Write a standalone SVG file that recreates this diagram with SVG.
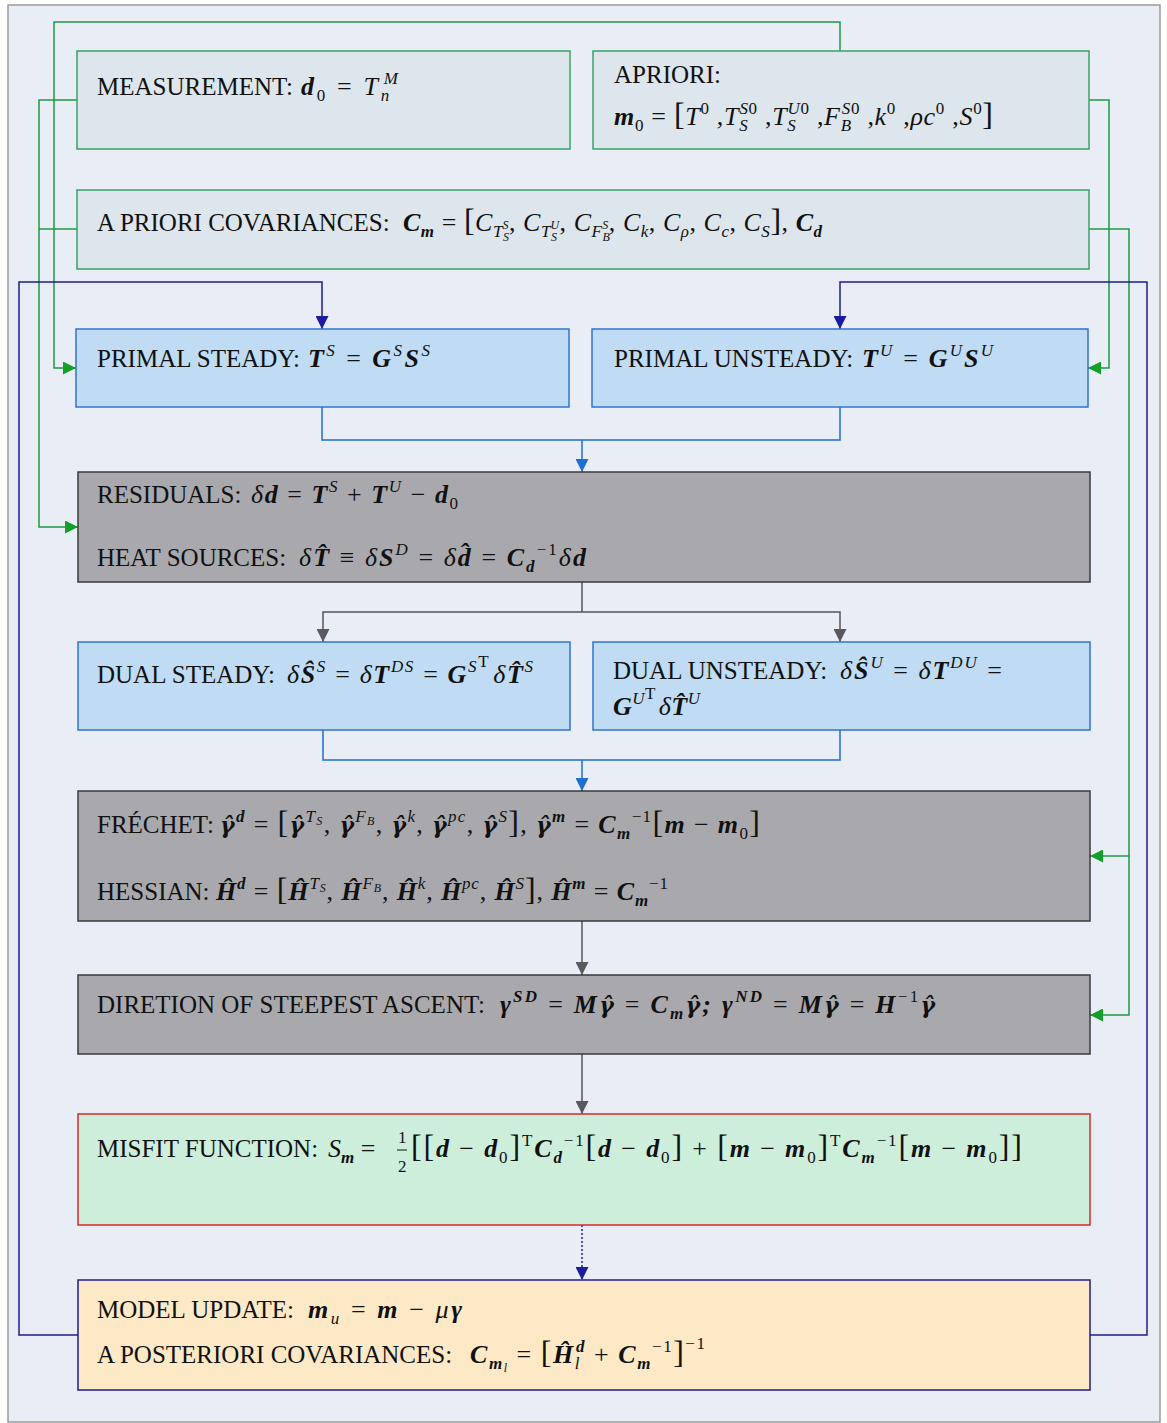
<svg xmlns="http://www.w3.org/2000/svg" width="1167" height="1423" viewBox="0 0 1167 1423">
<defs>
<style>
text{font-family:"Liberation Serif","Times New Roman",serif;font-size:25px;fill:#111}
.m{font-size:26px}
.b{font-weight:bold;font-style:italic}
.i{font-style:italic}
.g{font-family:"DejaVu Serif",serif;font-size:22px;font-weight:bold;font-style:italic}
.s{font-size:17px}
.x{font-size:12px}
.k{font-size:32px}
.bin{fill:#dde6ec;stroke:#3aa36a;stroke-width:1.5}
.bpr{fill:#bfdcf4;stroke:#2f74cf;stroke-width:1.5}
.bgr{fill:#a9a9ad;stroke:#3a3a3a;stroke-width:1.5}
.bmf{fill:#cdeedb;stroke:#d62a2a;stroke-width:1.5}
.bup{fill:#fde9c6;stroke:#1e1e8a;stroke-width:1.5}
.cg{fill:none;stroke:#1d9a45;stroke-width:1.5}
.cn{fill:none;stroke:#1c1c8e;stroke-width:1.5}
.cb{fill:none;stroke:#1f6fd0;stroke-width:1.5}
.ck{fill:none;stroke:#555;stroke-width:1.5}
</style>
<marker id="aG" viewBox="0 0 10 10" refX="10" refY="5" markerWidth="13" markerHeight="13" markerUnits="userSpaceOnUse" orient="auto"><path d="M0,0 L10,5 L0,10 z" fill="#12a028"/></marker>
<marker id="aN" viewBox="0 0 10 10" refX="10" refY="5" markerWidth="13" markerHeight="13" markerUnits="userSpaceOnUse" orient="auto"><path d="M0,0 L10,5 L0,10 z" fill="#1c1c9e"/></marker>
<marker id="aB" viewBox="0 0 10 10" refX="10" refY="5" markerWidth="13" markerHeight="13" markerUnits="userSpaceOnUse" orient="auto"><path d="M0,0 L10,5 L0,10 z" fill="#1f6fd0"/></marker>
<marker id="aK" viewBox="0 0 10 10" refX="10" refY="5" markerWidth="13" markerHeight="13" markerUnits="userSpaceOnUse" orient="auto"><path d="M0,0 L10,5 L0,10 z" fill="#5a5a5e"/></marker>
</defs>
<rect x="8" y="5" width="1152" height="1417" fill="#e9eef6" stroke="#9a9a9a" stroke-width="1.5"/>

<g id="connectors">
<path class="cg" d="M840,51 V22 H54 V368 H76" marker-end="url(#aG)"/>
<path class="cg" d="M77,100 H39 V527 H78" marker-end="url(#aG)"/>
<path class="cg" d="M77,229 H39"/>
<path class="cg" d="M1089,100 H1109 V368 H1088" marker-end="url(#aG)"/>
<path class="cg" d="M1089,229 H1129 V1015 H1090" marker-end="url(#aG)"/>
<path class="cg" d="M1129,856 H1090" marker-end="url(#aG)"/>
<path class="cn" d="M78,1335 H19 V282 H322 V329" marker-end="url(#aN)"/>
<path class="cn" d="M1090,1335 H1147 V282 H840 V329" marker-end="url(#aN)"/>
<path class="cn" d="M582,1225 V1280" stroke-dasharray="2,2" marker-end="url(#aN)"/>
<path class="cb" d="M322,407 V440 H840 V407"/>
<path class="cb" d="M582,440 V472" marker-end="url(#aB)"/>
<path class="cb" d="M323,730 V760 H840 V730"/>
<path class="cb" d="M582,760 V791" marker-end="url(#aB)"/>
<path class="ck" d="M582,582 V612"/>
<path class="ck" d="M582,612 H323 V642" marker-end="url(#aK)"/>
<path class="ck" d="M582,612 H840 V642" marker-end="url(#aK)"/>
<path class="ck" d="M582,921 V975" marker-end="url(#aK)"/>
<path class="ck" d="M582,1054 V1114" marker-end="url(#aK)"/>
</g>

<g id="measurement">
<rect class="bin" x="77" y="51" width="493" height="98"/>
<text x="97" y="95">MEASUREMENT:</text>
<text class="m" x="301" y="95" textLength="97" lengthAdjust="spacing"><tspan class="b">d</tspan><tspan class="s" dy="6">0</tspan><tspan dy="-6"> = </tspan><tspan class="i">T</tspan><tspan class="s i" dy="6">n</tspan><tspan class="s i" dx="-8" dy="-17">M</tspan></text>
</g>

<g id="apriori">
<rect class="bin" x="593" y="51" width="496" height="98"/>
<text x="614" y="83">APRIORI:</text>
<text class="m" x="614" y="125" textLength="379" lengthAdjust="spacing"><tspan class="b">m</tspan><tspan class="s" dy="6">0</tspan><tspan dy="-6"> = </tspan><tspan class="k">[</tspan><tspan class="i">T</tspan><tspan class="s" dy="-11">0</tspan><tspan dy="11"> ,</tspan><tspan class="i">T</tspan><tspan class="s i" dy="6">S</tspan><tspan class="s" dx="-9" dy="-17"><tspan class="i">S</tspan>0</tspan><tspan dy="11"> ,</tspan><tspan class="i">T</tspan><tspan class="s i" dy="6">S</tspan><tspan class="s" dx="-9" dy="-17"><tspan class="i">U</tspan>0</tspan><tspan dy="11"> ,</tspan><tspan class="i">F</tspan><tspan class="s i" dy="6">B</tspan><tspan class="s" dx="-10" dy="-17"><tspan class="i">S</tspan>0</tspan><tspan dy="11"> ,</tspan><tspan class="i">k</tspan><tspan class="s" dy="-11">0</tspan><tspan dy="11"> ,</tspan><tspan class="i">ρc</tspan><tspan class="s" dy="-11">0</tspan><tspan dy="11"> ,</tspan><tspan class="i">S</tspan><tspan class="s" dy="-11">0</tspan><tspan class="k" dy="11">]</tspan></text>
</g>

<g id="covariances">
<rect class="bin" x="77" y="190" width="1012" height="79"/>
<text x="97" y="231">A PRIORI COVARIANCES:</text>
<text class="m" x="403" y="231" textLength="419" lengthAdjust="spacing"><tspan class="b">C</tspan><tspan class="s b" dy="6">m</tspan><tspan dy="-6"> = </tspan><tspan class="k">[</tspan><tspan class="i">C</tspan><tspan class="s i" dy="6">T</tspan><tspan class="x i" dy="4">S</tspan><tspan class="x i" dx="-7" dy="-12">S</tspan><tspan dy="2">, </tspan><tspan class="i">C</tspan><tspan class="s i" dy="6">T</tspan><tspan class="x i" dy="4">S</tspan><tspan class="x i" dx="-7" dy="-12">U</tspan><tspan dy="2">, </tspan><tspan class="i">C</tspan><tspan class="s i" dy="6">F</tspan><tspan class="x i" dy="4">B</tspan><tspan class="x i" dx="-8" dy="-12">S</tspan><tspan dy="2">, </tspan><tspan class="i">C</tspan><tspan class="s i" dy="6">k</tspan><tspan dy="-6">, </tspan><tspan class="i">C</tspan><tspan class="s i" dy="6">ρ</tspan><tspan dy="-6">, </tspan><tspan class="i">C</tspan><tspan class="s i" dy="6">c</tspan><tspan dy="-6">, </tspan><tspan class="i">C</tspan><tspan class="s i" dy="6">S</tspan><tspan class="k" dy="-6">]</tspan>, <tspan class="b">C</tspan><tspan class="s b" dy="6">d</tspan></text>
</g>

<g id="primal-steady">
<rect class="bpr" x="76" y="329" width="493" height="78"/>
<text x="97" y="367">PRIMAL STEADY:</text>
<text class="m" x="308" y="367" textLength="122" lengthAdjust="spacing"><tspan class="b">T</tspan><tspan class="s i" dy="-11">S</tspan><tspan dy="11"> = </tspan><tspan class="b">G</tspan><tspan class="s i" dy="-11">S</tspan><tspan class="b" dy="11">S</tspan><tspan class="s i" dy="-11">S</tspan></text>
</g>

<g id="primal-unsteady">
<rect class="bpr" x="592" y="329" width="496" height="78"/>
<text x="614" y="367">PRIMAL UNSTEADY:</text>
<text class="m" x="862" y="367" textLength="131" lengthAdjust="spacing"><tspan class="b">T</tspan><tspan class="s i" dy="-11">U</tspan><tspan dy="11"> = </tspan><tspan class="b">G</tspan><tspan class="s i" dy="-11">U</tspan><tspan class="b" dy="11">S</tspan><tspan class="s i" dy="-11">U</tspan></text>
</g>

<g id="residuals">
<rect class="bgr" x="78" y="472" width="1012" height="110"/>
<text x="97" y="503">RESIDUALS:</text>
<text class="m" x="251" y="503" textLength="207" lengthAdjust="spacing"><tspan class="i">δ</tspan><tspan class="b">d</tspan> = <tspan class="b">T</tspan><tspan class="s i" dy="-11">S</tspan><tspan dy="11"> + </tspan><tspan class="b">T</tspan><tspan class="s i" dy="-11">U</tspan><tspan dy="11"> − </tspan><tspan class="b">d</tspan><tspan class="s" dy="6">0</tspan></text>
<text x="97" y="566">HEAT SOURCES:</text>
<text class="m" x="299" y="566" textLength="287" lengthAdjust="spacing"><tspan class="i">δ</tspan><tspan class="b">T̂</tspan> ≡ <tspan class="i">δ</tspan><tspan class="b">S</tspan><tspan class="s i" dy="-11">D</tspan><tspan dy="11"> = </tspan><tspan class="i">δ</tspan><tspan class="b">d̂</tspan> = <tspan class="b">C</tspan><tspan class="s b" dy="6">d</tspan><tspan class="s" dy="-17">−1</tspan><tspan class="i" dy="11">δ</tspan><tspan class="b">d</tspan></text>
</g>

<g id="dual-steady">
<rect class="bpr" x="78" y="642" width="492" height="88"/>
<text x="97" y="683">DUAL STEADY:</text>
<text class="m" x="287" y="683" textLength="246" lengthAdjust="spacing"><tspan class="i">δ</tspan><tspan class="b">Ŝ</tspan><tspan class="s i" dy="-11">S</tspan><tspan dy="11"> = </tspan><tspan class="i">δ</tspan><tspan class="b">T</tspan><tspan class="s i" dy="-11">DS</tspan><tspan dy="11"> = </tspan><tspan class="b">G</tspan><tspan class="s i" dy="-11">S</tspan><tspan class="s" dy="-5">T</tspan><tspan class="i" dx="3" dy="16">δ</tspan><tspan class="b">T̂</tspan><tspan class="s i" dy="-11">S</tspan></text>
</g>

<g id="dual-unsteady">
<rect class="bpr" x="593" y="642" width="497" height="88"/>
<text x="613" y="679">DUAL UNSTEADY:</text>
<text class="m" x="840" y="679" textLength="162" lengthAdjust="spacing"><tspan class="i">δ</tspan><tspan class="b">Ŝ</tspan><tspan class="s i" dy="-11">U</tspan><tspan dy="11"> = </tspan><tspan class="i">δ</tspan><tspan class="b">T</tspan><tspan class="s i" dy="-11">DU</tspan><tspan dy="11"> =</tspan></text>
<text class="m" x="613" y="715" textLength="87" lengthAdjust="spacing"><tspan class="b">G</tspan><tspan class="s i" dy="-11">U</tspan><tspan class="s" dy="-5">T</tspan><tspan class="i" dx="3" dy="16">δ</tspan><tspan class="b">T̂</tspan><tspan class="s i" dy="-11">U</tspan></text>
</g>

<g id="frechet-hessian">
<rect class="bgr" x="78" y="791" width="1012" height="130"/>
<text x="97" y="833">FRÉCHET:</text>
<text class="m" x="220" y="833" textLength="540" lengthAdjust="spacing"><tspan class="g">γ̂</tspan><tspan class="s b" dy="-11">d</tspan><tspan dy="11"> = </tspan><tspan class="k">[</tspan><tspan class="g">γ̂</tspan><tspan class="s i" dy="-11">T</tspan><tspan class="x i" dy="3">S</tspan><tspan dy="8">, </tspan><tspan class="g">γ̂</tspan><tspan class="s i" dy="-11">F</tspan><tspan class="x i" dy="3">B</tspan><tspan dy="8">, </tspan><tspan class="g">γ̂</tspan><tspan class="s i" dy="-11">k</tspan><tspan dy="11">, </tspan><tspan class="g">γ̂</tspan><tspan class="s i" dy="-11">pc</tspan><tspan dy="11">, </tspan><tspan class="g">γ̂</tspan><tspan class="s i" dy="-11">S</tspan><tspan class="k" dy="11">]</tspan>, <tspan class="g">γ̂</tspan><tspan class="s b" dy="-11">m</tspan><tspan dy="11"> = </tspan><tspan class="b">C</tspan><tspan class="s b" dy="6">m</tspan><tspan class="s" dy="-17">−1</tspan><tspan class="k" dy="11">[</tspan><tspan class="b">m</tspan> − <tspan class="b">m</tspan><tspan class="s" dy="6">0</tspan><tspan class="k" dy="-6">]</tspan></text>
<text x="97" y="900">HESSIAN:</text>
<text class="m" x="216" y="900" textLength="452" lengthAdjust="spacing"><tspan class="b">Ĥ</tspan><tspan class="s b" dy="-11">d</tspan><tspan dy="11"> = </tspan><tspan class="k">[</tspan><tspan class="b">Ĥ</tspan><tspan class="s i" dy="-11">T</tspan><tspan class="x i" dy="3">S</tspan><tspan dy="8">, </tspan><tspan class="b">Ĥ</tspan><tspan class="s i" dy="-11">F</tspan><tspan class="x i" dy="3">B</tspan><tspan dy="8">, </tspan><tspan class="b">Ĥ</tspan><tspan class="s i" dy="-11">k</tspan><tspan dy="11">, </tspan><tspan class="b">Ĥ</tspan><tspan class="s i" dy="-11">pc</tspan><tspan dy="11">, </tspan><tspan class="b">Ĥ</tspan><tspan class="s i" dy="-11">S</tspan><tspan class="k" dy="11">]</tspan>, <tspan class="b">Ĥ</tspan><tspan class="s b" dy="-11">m</tspan><tspan dy="11"> = </tspan><tspan class="b">C</tspan><tspan class="s b" dy="6">m</tspan><tspan class="s" dy="-17">−1</tspan></text>
</g>

<g id="direction">
<rect class="bgr" x="78" y="975" width="1012" height="79"/>
<text x="97" y="1013">DIRETION OF STEEPEST ASCENT:</text>
<text class="m" x="500" y="1013" textLength="435" lengthAdjust="spacing"><tspan class="b">γ</tspan><tspan class="s b" dy="-11">SD</tspan><tspan dy="11"> = </tspan><tspan class="b">M</tspan><tspan class="g">γ̂</tspan> = <tspan class="b">C</tspan><tspan class="s b" dy="6">m</tspan><tspan class="g" dy="-6">γ̂</tspan><tspan class="b">; γ</tspan><tspan class="s b" dy="-11">ND</tspan><tspan dy="11"> = </tspan><tspan class="b">M</tspan><tspan class="g">γ̂</tspan> = <tspan class="b">H</tspan><tspan class="s" dy="-11">−1</tspan><tspan class="g" dy="11">γ̂</tspan></text>
</g>

<g id="misfit">
<rect class="bmf" x="78" y="1114" width="1012" height="111"/>
<text x="97" y="1157">MISFIT FUNCTION:</text>
<text class="m" x="328" y="1157"><tspan class="i">S</tspan><tspan class="s b" dy="6">m</tspan><tspan dy="-6"> =</tspan></text>
<text x="398" y="1143" class="s">1</text>
<line x1="397" y1="1150" x2="407" y2="1150" stroke="#111" stroke-width="1"/>
<text x="398" y="1172" class="s">2</text>
<text class="m" x="411" y="1157" textLength="611" lengthAdjust="spacing"><tspan class="k">[[</tspan><tspan class="b">d</tspan> − <tspan class="b">d</tspan><tspan class="s" dy="6">0</tspan><tspan class="k" dy="-6">]</tspan><tspan class="s" dy="-11">T</tspan><tspan class="b" dy="11">C</tspan><tspan class="s b" dy="6">d</tspan><tspan class="s" dy="-17">−1</tspan><tspan class="k" dy="11">[</tspan><tspan class="b">d</tspan> − <tspan class="b">d</tspan><tspan class="s" dy="6">0</tspan><tspan class="k" dy="-6">]</tspan> + <tspan class="k">[</tspan><tspan class="b">m</tspan> − <tspan class="b">m</tspan><tspan class="s" dy="6">0</tspan><tspan class="k" dy="-6">]</tspan><tspan class="s" dy="-11">T</tspan><tspan class="b" dy="11">C</tspan><tspan class="s b" dy="6">m</tspan><tspan class="s" dy="-17">−1</tspan><tspan class="k" dy="11">[</tspan><tspan class="b">m</tspan> − <tspan class="b">m</tspan><tspan class="s" dy="6">0</tspan><tspan class="k" dy="-6">]]</tspan></text>
</g>

<g id="model-update">
<rect class="bup" x="78" y="1280" width="1012" height="110"/>
<text x="97" y="1318">MODEL UPDATE:</text>
<text class="m" x="308" y="1318" textLength="154" lengthAdjust="spacing"><tspan class="b">m</tspan><tspan class="s i" dy="6">u</tspan><tspan dy="-6"> = </tspan><tspan class="b">m</tspan> − <tspan class="i">μ</tspan><tspan class="b">γ</tspan></text>
<text x="97" y="1363">A POSTERIORI COVARIANCES:</text>
<text class="m" x="470" y="1363" textLength="235" lengthAdjust="spacing"><tspan class="b">C</tspan><tspan class="s b" dy="6">m</tspan><tspan class="x i" dy="3">l</tspan><tspan dy="-9"> = </tspan><tspan class="k">[</tspan><tspan class="b">Ĥ</tspan><tspan class="s i" dy="6">l</tspan><tspan class="s b" dx="-5" dy="-17">d</tspan><tspan dy="11"> + </tspan><tspan class="b">C</tspan><tspan class="s b" dy="6">m</tspan><tspan class="s" dy="-17">−1</tspan><tspan class="k" dy="11">]</tspan><tspan class="s" dy="-14">−1</tspan></text>
</g>
</svg>
